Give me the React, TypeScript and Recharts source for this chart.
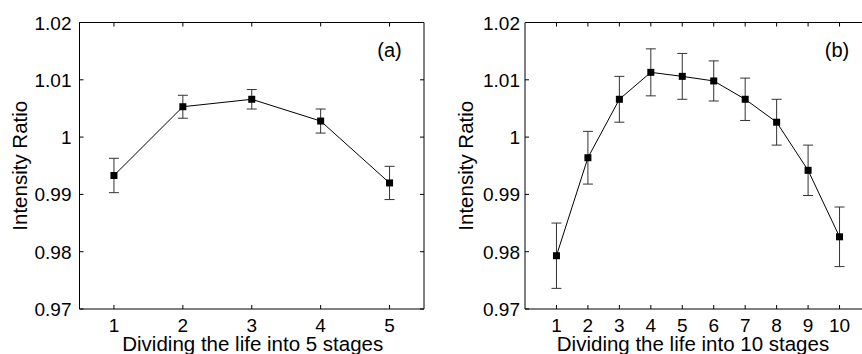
import { LineChart, Line, XAxis, YAxis, ErrorBar, ReferenceDot } from "recharts";

const stages5 = [1, 2, 3, 4, 5];
const ratio5 = [0.9933, 1.0053, 1.0066, 1.0028, 0.992];
const err5 = [0.003, 0.002, 0.0017, 0.0021, 0.0029];

const stages10 = [1, 2, 3, 4, 5, 6, 7, 8, 9, 10];
const ratio10 = [0.9793, 0.9964, 1.0066, 1.0113, 1.0106, 1.0098, 1.0066, 1.0026, 0.9942, 0.9826];
const err10 = [0.0057, 0.0046, 0.004, 0.0041, 0.004, 0.0035, 0.0037, 0.004, 0.0044, 0.0052];

const yTicks = [0.97, 0.98, 0.99, 1.0, 1.01, 1.02];
const yDomain: [number, number] = [0.97, 1.02];

const FONT = "'Liberation Sans', Arial, Helvetica, sans-serif";
const TOP = 22.5;
const BOTTOM = 309;
const TICK_LEN = 4;

const fmt = (v: number) => String(parseFloat(v.toFixed(2)));

// matlab style: ticks point inward on all four sides
const XTick = (props: any) => {
  const { x, y, payload } = props;
  return (
    <g>
      <line x1={x} x2={x} y1={BOTTOM} y2={BOTTOM - TICK_LEN} stroke="#000" />
      <line x1={x} x2={x} y1={TOP} y2={TOP + TICK_LEN} stroke="#000" />
      <text x={x} y={y} dy={15} textAnchor="middle" fontSize={19} fontFamily={FONT} fill="#000">
        {payload.value}
      </text>
    </g>
  );
};

const makeYTick = (left: number, right: number) => (props: any) => {
  const { x, y, payload } = props;
  const isTop = Math.abs(payload.value - yDomain[1]) < 1e-9;
  return (
    <g>
      <line x1={left} x2={left + TICK_LEN} y1={y} y2={y} stroke="#000" />
      <line x1={right} x2={right - TICK_LEN} y1={y} y2={y} stroke="#000" />
      {/* top and right sides of the box */}
      {isTop && <line x1={left} x2={right} y1={y} y2={y} stroke="#000" />}
      {isTop && <line x1={right} x2={right} y1={y} y2={BOTTOM} stroke="#000" />}
      <text x={x} y={y} dy={7} textAnchor="end" fontSize={19} fontFamily={FONT} fill="#000">
        {fmt(payload.value)}
      </text>
    </g>
  );
};

const Square = (p: any) => (
  <rect key={p.index} x={p.cx - 3.5} y={p.cy - 3.5} width={7} height={7} fill="#000" />
);

type PanelProps = {
  data: { stage: number; ratio: number; err: number }[];
  width: number;
  yAxisWidth: number;
  marginRight: number;
  domain: [number, number];
  ticks: number[];
  xLabel: string;
  xLabelDx: number;
  yLabelDx: number;
  tag: string;
  tagX: number;
  yMargin: number;
};

function Panel(p: PanelProps) {
  const left = p.yAxisWidth;
  const right = p.width - p.marginRight;
  return (
    <LineChart
      width={p.width}
      height={354}
      data={p.data}
      margin={{ top: TOP, right: p.marginRight, bottom: 0, left: 0 }}
    >
      <XAxis
        dataKey="stage"
        type="number"
        domain={p.domain}
        ticks={p.ticks}
        height={45}
        tickLine={false}
        tickSize={0}
        tickMargin={8}
        axisLine={{ stroke: "#000" }}
        tick={XTick}
        label={{
          value: p.xLabel,
          position: "insideBottom",
          offset: 3,
          dx: p.xLabelDx,
          fontSize: 20.5,
          fontFamily: FONT,
          fill: "#000",
        }}
      />
      <YAxis
        type="number"
        domain={yDomain}
        ticks={yTicks}
        width={p.yAxisWidth}
        tickLine={false}
        tickSize={0}
        tickMargin={p.yMargin}
        axisLine={{ stroke: "#000" }}
        tick={makeYTick(left, right)}
        label={{
          value: "Intensity Ratio",
          angle: -90,
          position: "center",
          dx: p.yLabelDx,
          fontSize: 20.5,
          fontFamily: FONT,
          fill: "#000",
        }}
      />
      <ReferenceDot
        x={p.tagX}
        y={1.0152}
        r={0}
        label={{ value: p.tag, position: "center", fontSize: 20, fontFamily: FONT, fill: "#000" }}
      />
      <Line
        dataKey="ratio"
        stroke="#000"
        strokeWidth={1}
        dot={Square}
        activeDot={false}
        isAnimationActive={false}
      >
        <ErrorBar dataKey="err" width={5} stroke="#333" strokeWidth={1} direction="y" />
      </Line>
    </LineChart>
  );
}

export default function App() {
  const data5 = stages5.map((s, i) => ({ stage: s, ratio: ratio5[i], err: err5[i] }));
  const data10 = stages10.map((s, i) => ({ stage: s, ratio: ratio10[i], err: err10[i] }));
  return (
    <div
      style={{
        position: "absolute",
        left: 0,
        top: 0,
        width: 862,
        height: 354,
        overflow: "hidden",
        background: "#fff",
      }}
    >
      <div style={{ position: "absolute", left: 0, top: 0 }}>
        <Panel
          data={data5}
          width={440}
          yAxisWidth={79.5}
          marginRight={16}
          domain={[0.5, 5.5]}
          ticks={stages5}
          xLabel="Dividing the life into 5 stages"
          xLabelDx={1}
          yLabelDx={-20}
          tag="(a)"
          tagX={5}
          yMargin={8}
        />
      </div>
      <div style={{ position: "absolute", left: 430, top: 0 }}>
        <Panel
          data={data10}
          width={460}
          yAxisWidth={95}
          marginRight={19}
          domain={[0, 11]}
          ticks={stages10}
          xLabel="Dividing the life into 10 stages"
          xLabelDx={-5}
          yLabelDx={-11.5}
          tag="(b)"
          tagX={9.92}
          yMargin={5}
        />
      </div>
    </div>
  );
}
